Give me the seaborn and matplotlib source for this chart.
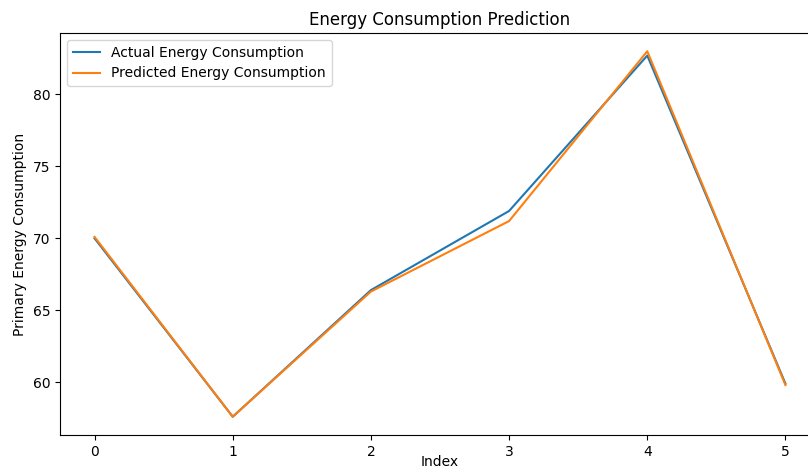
import pandas as pd
import matplotlib
matplotlib.use("Agg")
import matplotlib.pyplot as plt
import seaborn as sns

# values
index = [0, 1, 2, 3, 4, 5]
actual = [70.0, 57.6, 66.4, 71.9, 82.7, 59.9]
predicted = [70.1, 57.6, 66.3, 71.2, 83.0, 59.8]

df = pd.DataFrame({"Index": index, "Actual": actual, "Predicted": predicted})

fig = plt.figure(figsize=(8.08, 4.72), dpi=100)
# the reference is a cropped screenshot: right spine falls outside the picture
ax = fig.add_axes([60 / 808, 1 - 435 / 472, 760 / 808, 402 / 472])

sns.lineplot(data=df, x="Index", y="Actual", ax=ax, label="Actual Energy Consumption")
sns.lineplot(data=df, x="Index", y="Predicted", ax=ax, label="Predicted Energy Consumption")

ax.set_title("Energy Consumption Prediction")
ax.set_xlabel("Index", labelpad=-3)
ax.set_ylabel("Primary Energy Consumption")
ax.legend(loc="upper left")

fig.savefig("out.png", dpi=100)
